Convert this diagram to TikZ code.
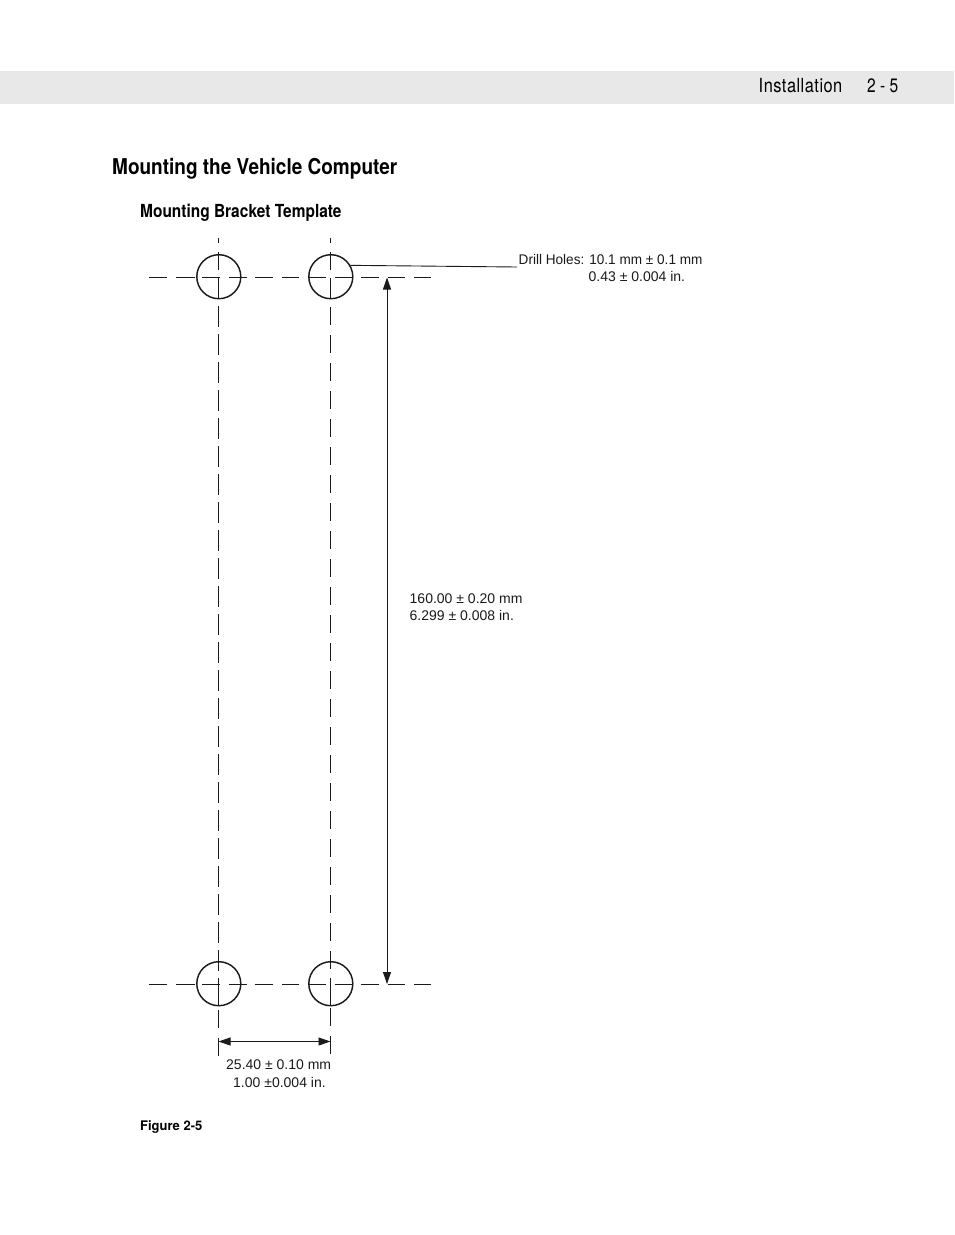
\documentclass[tikz,border=0pt]{standalone}
\usepackage{fontspec}
\setmainfont{Liberation Sans}
\newfontfamily\headfont[Scale=1]{TeX Gyre Heros}
\usetikzlibrary{arrows.meta}
\definecolor{bandgray}{HTML}{E8E8E8}
\definecolor{inkc}{HTML}{1A1A1A}
\tikzset{
  px/.style={x=1pt,y=-1pt},
  ln/.style={draw=inkc,line width=1.05pt},
  thin ln/.style={draw=inkc,line width=0.9pt},
  hole/.style={circle,draw=inkc,line width=1.45pt,minimum size=44pt,inner sep=0pt},
  dimlabel/.style={font=\fontsize{14}{17.5}\selectfont,text=inkc,inner sep=0pt,anchor=base west,align=left},
  head/.style={font=\headfont\bfseries,text=black,inner sep=0pt,anchor=base west},
  dimtips/.style={{Triangle[length=12pt,width=8pt]}-{Triangle[length=12pt,width=8pt]}}
}
\begin{document}
\begin{tikzpicture}[px]
\useasboundingbox (0,0) rectangle (954,1235);
\fill[bandgray] (0,71) rectangle (954,104);
\node[head,font=\fontsize{14.5}{17}\headfont\mdseries] (secname) at (758.5,92) {\addfontfeature{LetterSpace=3}\scalebox{1.13}[1.34]{Installation}};
\node[head,font=\fontsize{14.5}{17}\headfont\mdseries] (pageno) at (867,92) {\scalebox{1.07}[1.34]{2 - 5}};
\node[head,font=\fontsize{18}{22}\headfont\bfseries] (title) at (112,174) {\scalebox{1.055}[1.21]{Mounting the Vehicle Computer}};
\node[head,font=\fontsize{15}{18}\headfont\bfseries] (sub) at (140,217) {\scalebox{1.03}[1.2]{Mounting Bracket Template}};
\node[head,font=\fontsize{11}{13}\headfont\bfseries] (figlabel) at (140,1130) {\scalebox{1.18}[1.2]{Figure 2-5}};

\node[hole] (h1) at (218.8,276.7) {};
\node[hole] (h2) at (330.8,276.7) {};
\node[hole] (h3) at (218.8,983.7) {};
\node[hole] (h4) at (330.8,983.7) {};

% horizontal centre lines, top then bottom
\foreach \yy in {277.4,984.4}{
  \foreach \a/\b in {149/167,176/195,202/220,229/246.5,255/272.5,282/299,308/326,335/352.5,361/379,388/405,414/431}
    \draw[ln] (\a,\yy) -- (\b,\yy);
}
% vertical centre lines
\foreach \a/\b in {237.5/243,252/270,278/298}{
  \draw[ln] (218.5,\a) -- (218.5,\b);
  \draw[ln] (330.5,\a) -- (330.5,\b);
}
\foreach \k in {0,...,23}{
  \pgfmathsetmacro{\sa}{306+28*\k}
  \pgfmathsetmacro{\sb}{\sa+21}
  \draw[ln] (218.5,\sa) -- (218.5,\sb);
  \pgfmathsetmacro{\ta}{307+28*\k}
  \pgfmathsetmacro{\tb}{\ta+18}
  \draw[ln] (330.5,\ta) -- (330.5,\tb);
}
\draw[ln] (218.5,978) -- (218.5,1006);
\draw[ln] (330.5,978) -- (330.5,1006);
\draw[ln] (218.5,1010) -- (218.5,1028);
\draw[ln] (330.5,1008) -- (330.5,1026);

% dimension: vertical
\coordinate (dtop) at (387,277.5);
\coordinate (dbot) at (387,984);
\draw[thin ln,dimtips] (dtop) -- (dbot);

% dimension: horizontal
\coordinate (tl1) at (218.5,1038);
\coordinate (tl2) at (218.5,1056);
\coordinate (tr1) at (330.5,1036);
\coordinate (tr2) at (330.5,1054);
\draw[ln] (tl1) -- (tl2);
\draw[ln] (tr1) -- (tr2);
\coordinate (dl) at (218.5,1041.5);
\coordinate (dr) at (330.5,1041.5);
\draw[thin ln,dimtips] (dl) -- (dr);

% leader
\coordinate (lead) at (517,267);
\draw[thin ln] (h2.30) -- (lead);

\node[dimlabel] (drill) at (518.5,264) {\scalebox{0.97}[1]{Drill Holes: 10.1 mm ± 0.1 mm}};
\node[dimlabel] (drillin) at (588.5,281) {0.43 ± 0.004 in.};
\node[dimlabel] (vert1) at (409.5,603) {160.00 ± 0.20 mm};
\node[dimlabel] (vert2) at (409.5,620) {6.299 ± 0.008 in.};
\node[dimlabel] (horz1) at (226,1069) {25.40 ± 0.10 mm};
\node[dimlabel] (horz2) at (233,1087) {1.00 ±0.004 in.};
\end{tikzpicture}
\end{document}
